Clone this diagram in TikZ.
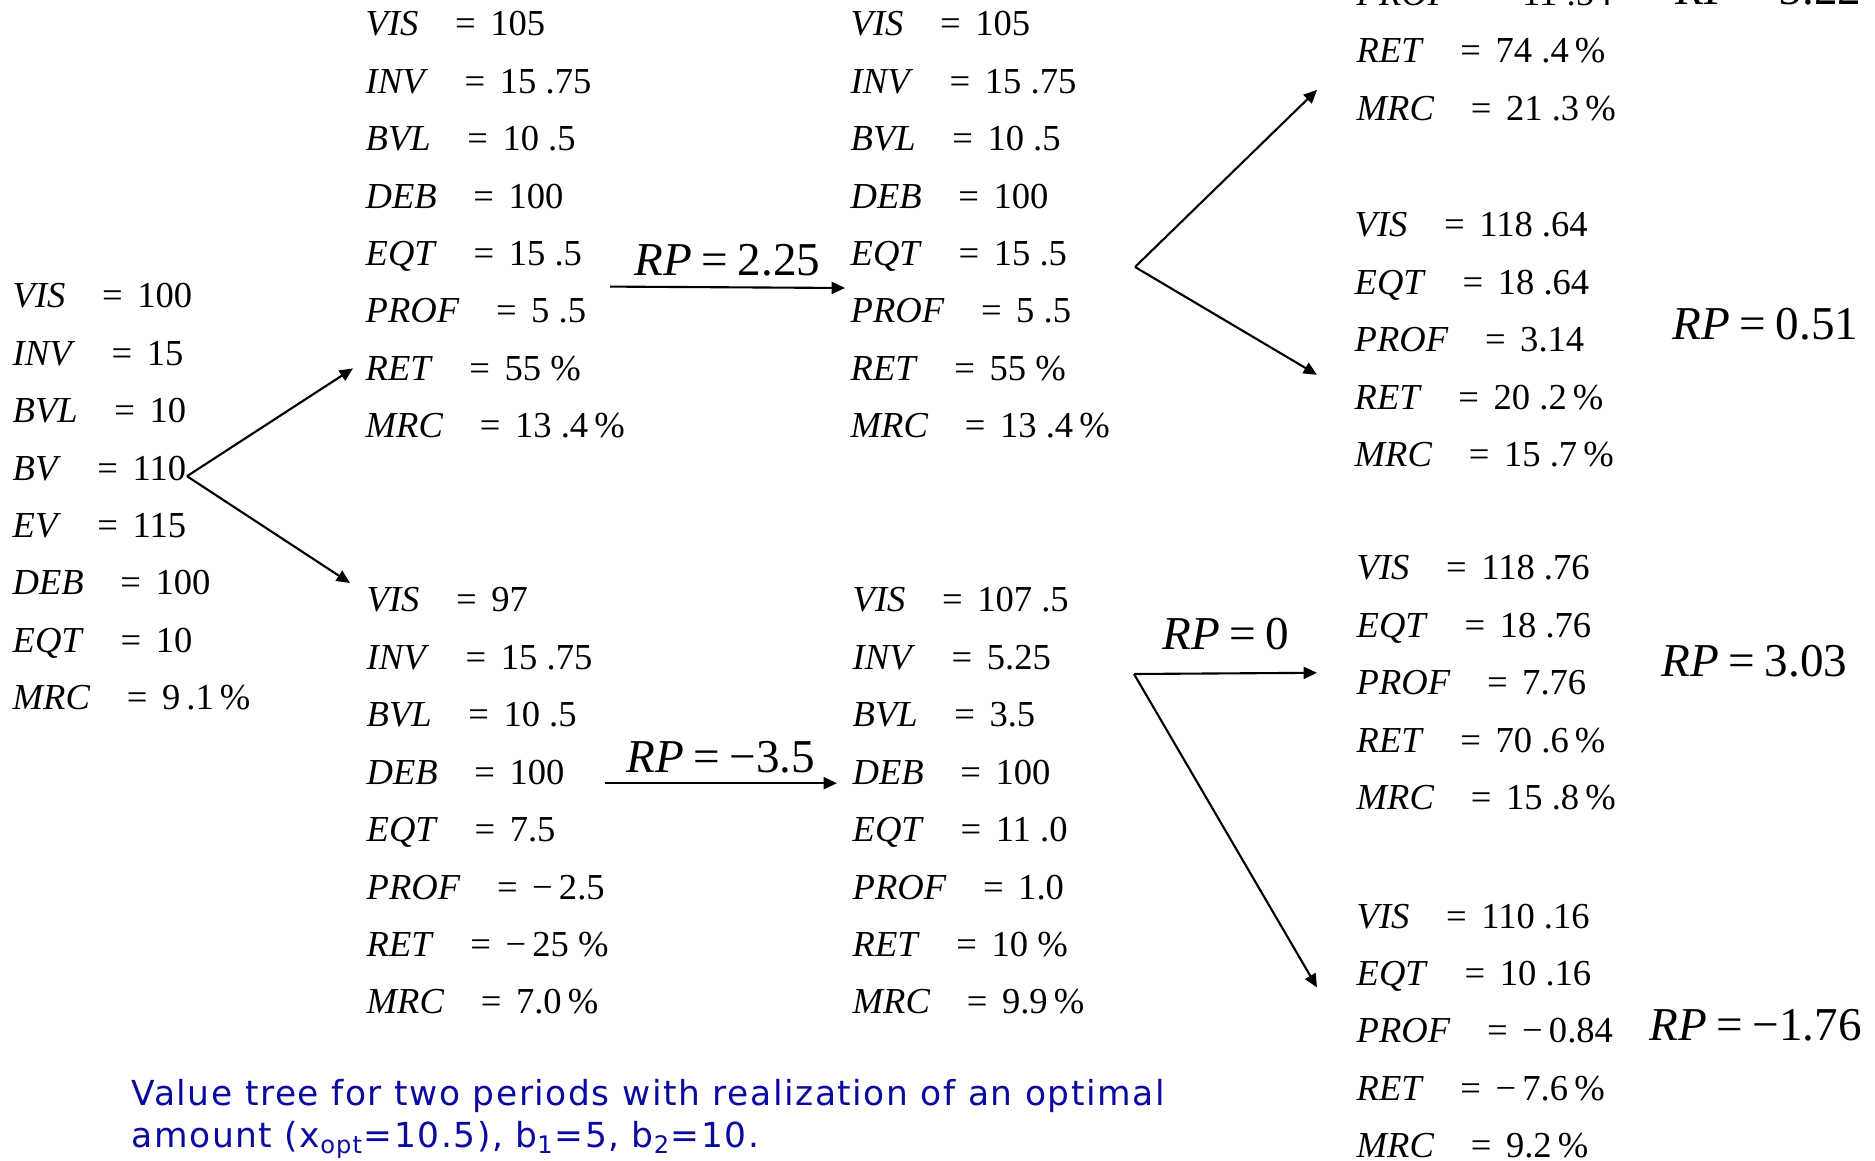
\documentclass[tikz,border=0pt]{standalone}
\usepackage{fontspec}
\setmainfont{Liberation Serif}
\newfontfamily\capfont{DejaVu Sans}
\usetikzlibrary{arrows.meta}
\definecolor{capblue}{RGB}{10,10,160}

\begin{document}
\begin{tikzpicture}[x=0.01cm, y=-0.01cm,
  row/.style={anchor=base west, inner sep=0pt, font=\rmfamily\fontsize{10.4}{12}\selectfont},
  rp/.style={anchor=base west, inner sep=0pt, font=\rmfamily\fontsize{13.4}{15}\selectfont},
  arr/.style={-{Triangle[length=3.8pt, width=3.4pt]}, line width=0.6pt}]

\useasboundingbox (0,0) rectangle (1875,1161);
\clip (0,0) rectangle (1875,1161);

% Start values
\foreach \k/\v [count=\i] in {VIS/100, INV/15, BVL/10, BV/110, EV/115, DEB/100, EQT/10, MRC/9\,.1\,\%}
  \node[row] (root-\i) at (12,{308+57.4*(\i-1)}) {\textit{\k}\hspace{1em}=\hspace{.4em}\v};

% Period 1, upper branch
\foreach \k/\v [count=\i] in {VIS/105, INV/15 .75, BVL/10 .5, DEB/100, EQT/15 .5, PROF/5 .5, RET/55 \%, MRC/13 .4\,\%}
  \node[row] (hi-\i) at (365,{36+57.4*(\i-1)}) {\textit{\k}\hspace{1em}=\hspace{.4em}\v};
\foreach \k/\v [count=\i] in {VIS/105, INV/15 .75, BVL/10 .5, DEB/100, EQT/15 .5, PROF/5 .5, RET/55 \%, MRC/13 .4\,\%}
  \node[row] (hi2-\i) at (850,{36+57.4*(\i-1)}) {\textit{\k}\hspace{1em}=\hspace{.4em}\v};

% Period 1, lower branch
\foreach \k/\v [count=\i] in {VIS/97, INV/15 .75, BVL/10 .5, DEB/100, EQT/7.5, PROF/−\,2.5, RET/−\,25 \%, MRC/7.0\,\%}
  \node[row] (lo-\i) at (366,{612+57.4*(\i-1)}) {\textit{\k}\hspace{1em}=\hspace{.4em}\v};
\foreach \k/\v [count=\i] in {VIS/107 .5, INV/5.25, BVL/3.5, DEB/100, EQT/11 .0, PROF/1.0, RET/10 \%, MRC/9.9\,\%}
  \node[row] (lo2-\i) at (852,{612+57.4*(\i-1)}) {\textit{\k}\hspace{1em}=\hspace{.4em}\v};

% Period 2 leaves
\foreach \k/\v [count=\i] in {PROF/11 .54, RET/74 .4\,\%, MRC/21 .3\,\%}
  \node[row] (hh-\i) at (1356,{5.5+57.4*(\i-1)}) {\textit{\k}\hspace{1em}=\hspace{.4em}\v};
\foreach \k/\v [count=\i] in {VIS/118 .64, EQT/18 .64, PROF/3.14, RET/20 .2\,\%, MRC/15 .7\,\%}
  \node[row] (hl-\i) at (1354,{237+57.4*(\i-1)}) {\textit{\k}\hspace{1em}=\hspace{.4em}\v};
\foreach \k/\v [count=\i] in {VIS/118 .76, EQT/18 .76, PROF/7.76, RET/70 .6\,\%, MRC/15 .8\,\%}
  \node[row] (lh-\i) at (1356,{580+57.4*(\i-1)}) {\textit{\k}\hspace{1em}=\hspace{.4em}\v};
\foreach \k/\v [count=\i] in {VIS/110 .16, EQT/10 .16, PROF/−\,0.84, RET/−\,7.6\,\%, MRC/9.2\,\%}
  \node[row] (ll-\i) at (1356,{928+57.4*(\i-1)}) {\textit{\k}\hspace{1em}=\hspace{.4em}\v};

% RP of the leaves
\node[rp] (rp-hh) at (1675,5) {\textit{RP}\hspace{.2em}=\hspace{.2em}5.22};
\node[rp] (rp-hl) at (1672,340) {\textit{RP}\hspace{.2em}=\hspace{.2em}0.51};
\node[rp] (rp-lh) at (1661,676) {\textit{RP}\hspace{.2em}=\hspace{.2em}3.03};
\node[rp] (rp-ll) at (1649,1040) {\textit{RP}\hspace{.2em}=\hspace{.2em}−1.76};

% Branches of period 1
\draw[arr] ([shift={(175,-4)}]root-4.base west) -- ([shift={(-12,-12)}]hi-7.base west);
\draw[arr] ([shift={(175,-4)}]root-4.base west) -- ([shift={(-16,-29)}]lo-1.base west);

% Realized premiums
\draw[arr] ([shift={(245,21)}]hi-5.base west) -- node[rp, anchor=south, above=0.1cm] (rp-hi) {\textit{RP}\hspace{.2em}=\hspace{.2em}2.25} ([shift={(-5,-35)}]hi2-6.base west);
\draw[arr] ([shift={(239,-1)}]lo-4.base west) -- node[rp, anchor=south, above=0.09cm] (rp-lo) {\textit{RP}\hspace{.2em}=\hspace{.2em}−3.5} ([shift={(-15,-1)}]lo2-4.base west);

% Branches of period 2
\coordinate (fork-a) at (1135,267);
\coordinate (fork-b) at (1134,674);
\draw[arr] (fork-a) -- ([shift={(-39,27)}]hh-2.base west);
\draw[arr] (fork-a) -- ([shift={(-37,23)}]hl-3.base west);
\draw[arr] (fork-b) -- node[rp, anchor=south, above=0.22cm] (rp-zero) {\textit{RP}\hspace{.2em}=\hspace{.2em}0} ([shift={(-39,-22)}]lh-3.base west);
\draw[arr] (fork-b) -- ([shift={(-39,2)}]ll-2.base west);

% Caption
\node[anchor=north west, inner sep=0pt, align=left, text=capblue,
  font=\capfont\addfontfeature{LetterSpace=4.5}\fontsize{9.8}{11.95}\selectfont] (caption) at (131,1079)
  {Value tree for two periods with realization of an optimal\\
   amount (x\textsubscript{opt}=10.5), b\textsubscript{1}=5, b\textsubscript{2}=10.};

\end{tikzpicture}
\end{document}
